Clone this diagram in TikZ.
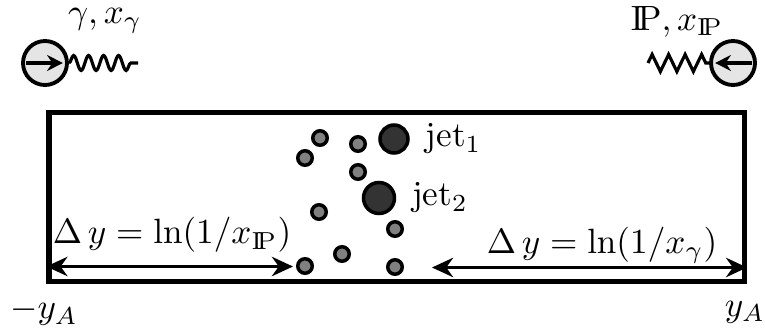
\documentclass[tikz,border=0pt]{standalone}
\usepackage{amsmath}
\usepackage{amssymb}
\usepackage{xcolor}
\usepackage{tikz}
\usetikzlibrary{
arrows.meta,
positioning,
decorations.pathmorphing
}
\newcommand{\Pom}{\mathrm{I\!P}}

\begin{document}
\begin{tikzpicture}[
node distance=1pt,
beam/.style={
draw,
circle,
line width=1.1pt,
fill=black!10,
inner sep=0pt,
minimum size=0.44cm
},
hadron/.style={circle,draw,line width=1pt,fill=gray,inner sep=0pt,minimum size=0.145cm},
jet/.style={circle,draw,line width=1pt,fill=black!80,inner sep=0pt},
frame/.style={draw,line width=1.5pt,inner sep=0pt},
lab/.style={inner sep=1pt},
inarrow/.style={-{Stealth[length=4.5pt,width=4.5pt]},line width=1.1pt},
gap/.style={{Stealth[length=6pt,width=5.5pt]}-{Stealth[length=6pt,width=5.5pt]},line width=1.1pt}
]
\useasboundingbox (0,0) rectangle (7.65,3.29);

% incoming photon and pomeron
\node[beam] (gam) at (0.45,2.66) {};
\node[beam] (pom) at (7.33,2.66) {};
\coordinate (gamend) at (1.38,2.66);
\coordinate (pomend) at (6.48,2.66);
\draw[inarrow] ([xshift=0.05cm]gam.west) -- ([xshift=-0.06cm]gam.east);
\draw[inarrow] ([xshift=-0.05cm]pom.east) -- ([xshift=0.06cm]pom.west);
\draw[line width=0.9pt,decorate,decoration={snake,amplitude=0.075cm,segment length=0.15cm}] (gam.east) -- (gamend);
\draw[line width=0.9pt,decorate,decoration={zigzag,amplitude=0.085cm,segment length=0.165cm}] (pomend) -- (pom.west);
\node[lab] (gamlab) at (1.05,3.08) {$\gamma, x_\gamma$};
\node[lab] (pomlab) at (6.77,3.07) {$\Pom, x_{\Pom}$};

% detector frame
\node[frame,minimum width=6.955cm,minimum height=1.69cm] (det) at (3.9675,1.32) {};

% hadrons and jets
\node[hadron] (d1) at (3.20,1.91) {};
\node[hadron] (d2) at (3.05,1.71) {};
\node[hadron] (d3) at (3.58,1.85) {};
\node[hadron] (d4) at (3.58,1.57) {};
\node[hadron] (d5) at (3.19,1.17) {};
\node[hadron] (d6) at (3.95,1.00) {};
\node[hadron] (d7) at (3.42,0.75) {};
\node[hadron] (d8) at (3.05,0.63) {};
\node[hadron] (d9) at (3.95,0.62) {};
\node[jet,minimum size=0.28cm] (jet1) at (3.94,1.90) {};
\node[jet,minimum size=0.31cm] (jet2) at (3.79,1.31) {};
\node[right=of jet1] (jetlab1) {jet$_1$};
\node[right=of jet2] (jetlab2) {jet$_2$};

% rapidity gaps
\coordinate (lend) at (2.93,0.625);
\coordinate (rend) at (4.32,0.615);
\draw[gap] (det.west |- lend) -- (lend);
\draw[gap] (rend) -- (det.east |- rend);
\node (gaplab1) at (1.72,0.94) {$\Delta\,y = \ln(1/x_{\Pom})$};
\node (gaplab2) at (6.02,0.84) {$\Delta\,y = \ln(1/x_\gamma)$};

\node[lab] (ymin) at (0.44,0.17) {$-y_A$};
\node[lab] (ymax) at (7.45,0.17) {$y_A$};

\end{tikzpicture}
\end{document}
